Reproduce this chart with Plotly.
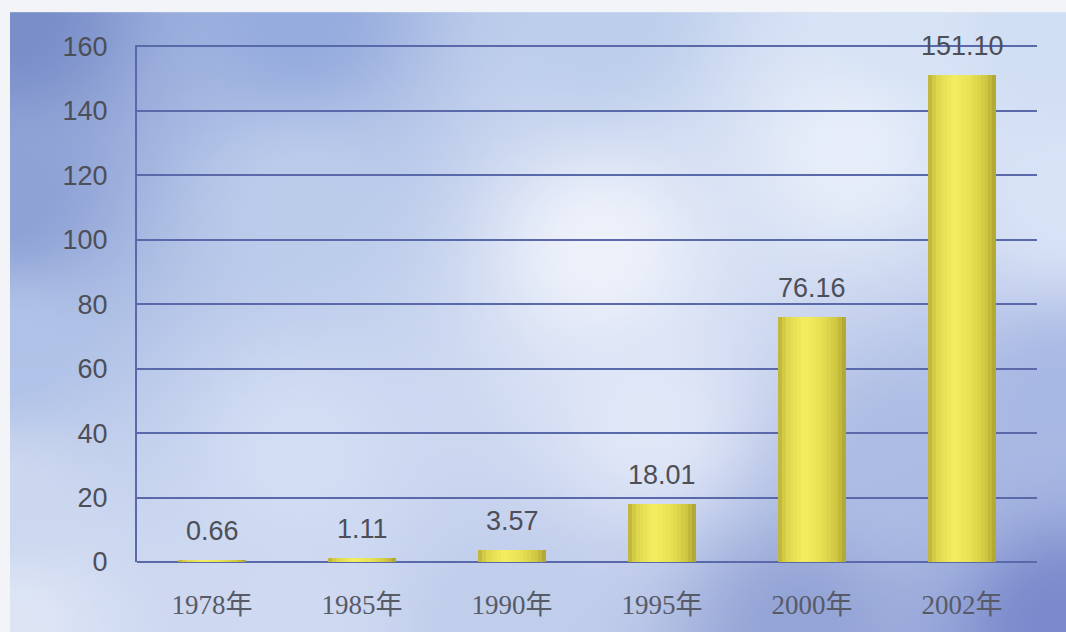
import base64
import struct
import zlib

import plotly.graph_objects as go

# ---------------- data ----------------
categories = ["1978年", "1985年", "1990年", "1995年", "2000年", "2002年"]
values = [0.66, 1.11, 3.57, 18.01, 76.16, 151.10]
value_labels = ["0.66", "1.11", "3.57", "18.01", "76.16", "151.10"]
y_ticks = [0, 20, 40, 60, 80, 100, 120, 140, 160]

# ---------------- geometry ----------------
W_FIG, H_FIG = 1066, 632
PANEL_X, PANEL_Y = 10, 12          # blue panel top-left

# ---------------- background gradient image (generated PNG) ----------------
anchors = [
    (15, 20, (122, 142, 202)), (300, 20, (150, 172, 222)), (600, 20, (188, 206, 236)),
    (900, 20, (215, 228, 246)), (1060, 20, (208, 222, 243)),
    (15, 200, (142, 162, 214)), (15, 350, (176, 195, 232)), (15, 500, (205, 216, 240)),
    (15, 625, (222, 230, 246)),
    (300, 200, (188, 205, 236)), (300, 450, (212, 223, 245)),
    (600, 250, (238, 242, 251)), (850, 150, (232, 239, 250)), (650, 420, (225, 232, 248)),
    (1060, 200, (218, 228, 247)), (1060, 400, (168, 184, 228)), (1060, 625, (122, 138, 204)),
    (800, 625, (148, 164, 214)), (500, 625, (192, 206, 236)), (300, 625, (208, 218, 242)),
    (900, 470, (172, 188, 228)),
]


def make_png(w, h):
    rows = []
    for j in range(h):
        py = PANEL_Y + (j + 0.5) * (H_FIG - PANEL_Y) / h
        row = bytearray()
        for i in range(w):
            px = PANEL_X + (i + 0.5) * (W_FIG - PANEL_X) / w
            sw = 0.0
            acc = [0.0, 0.0, 0.0]
            for ax, ay, c in anchors:
                d2 = (px - ax) ** 2 + (py - ay) ** 2 + 1.0
                wt = 1.0 / (d2 ** 1.3)
                sw += wt
                acc[0] += wt * c[0]
                acc[1] += wt * c[1]
                acc[2] += wt * c[2]
            row.extend(int(a / sw) for a in acc)
        rows.append(row)
    raw = b"".join(b"\x00" + bytes(r) for r in rows)

    def chunk(tag, data):
        return (struct.pack(">I", len(data)) + tag + data
                + struct.pack(">I", zlib.crc32(tag + data) & 0xFFFFFFFF))

    png = b"\x89PNG\r\n\x1a\n"
    png += chunk(b"IHDR", struct.pack(">IIBBBBB", w, h, 8, 2, 0, 0, 0))
    png += chunk(b"IDAT", zlib.compress(raw, 9))
    png += chunk(b"IEND", b"")
    return "data:image/png;base64," + base64.b64encode(png).decode()


bg_src = make_png(132, 78)

# ---------------- figure ----------------
ML, MR, MT, MB = 137, 29, 45, 67
PW = W_FIG - ML - MR
PH = H_FIG - MT - MB

fig = go.Figure()

# cylinder-like shading via thin overlaid bar slices
BAR_W = 0.45
N = 18
stops = [(0.0, (186, 176, 58)), (0.12, (222, 214, 76)), (0.38, (244, 238, 96)),
         (0.65, (232, 224, 82)), (0.88, (205, 195, 64)), (1.0, (172, 162, 50))]


def shade(t):
    for k in range(len(stops) - 1):
        t0, c0 = stops[k]
        t1, c1 = stops[k + 1]
        if t0 <= t <= t1:
            f = (t - t0) / (t1 - t0)
            return "rgb(%d,%d,%d)" % tuple(int(c0[m] + f * (c1[m] - c0[m])) for m in range(3))
    return "rgb(%d,%d,%d)" % stops[-1][1]


sw_ = BAR_W / N
for i in range(N):
    t = (i + 0.5) / N
    fig.add_trace(go.Bar(
        x=categories, y=values,
        width=sw_ * (1.35 if i < N - 1 else 1.0),
        offset=-BAR_W / 2 + i * sw_,
        marker=dict(color=shade(t), line=dict(width=0)),
        hoverinfo="skip", showlegend=False,
    ))

for c, v, lab in zip(categories, values, value_labels):
    fig.add_annotation(x=c, y=v, text=lab, showarrow=False, yanchor="bottom",
                       yshift=12, font=dict(family="Liberation Sans, Arial", size=27,
                                            color="#4d4f58"))

fig.add_layout_image(dict(
    source=bg_src, xref="paper", yref="paper",
    x=(PANEL_X - ML) / PW, y=1 + (MT - PANEL_Y) / PH,
    sizex=(W_FIG - PANEL_X) / PW, sizey=(H_FIG - PANEL_Y + 4) / PH,
    sizing="stretch", xanchor="left", yanchor="top", layer="below",
))

fig.update_layout(
    width=W_FIG, height=H_FIG,
    margin=dict(l=ML, r=MR, t=MT, b=MB, pad=0),
    paper_bgcolor="#f3f4f8", plot_bgcolor="rgba(0,0,0,0)",
    barmode="overlay", bargap=0, showlegend=False,
    xaxis=dict(
        type="category", range=[-0.5, 5.5], showgrid=False, zeroline=False,
        showline=False, ticks="", ticklabelstandoff=24,
        tickfont=dict(family="Liberation Serif, Noto Sans CJK SC", size=27, color="#575b68"),
    ),
    yaxis=dict(
        range=[0, 160.4], tickvals=y_ticks, showgrid=True, gridcolor="#5a69aa",
        gridwidth=2, zeroline=True, zerolinecolor="#5a69aa", zerolinewidth=2,
        showline=True, linecolor="#5a69aa", linewidth=2, ticks="",
        ticklabelstandoff=22,
        tickfont=dict(family="Liberation Sans, Arial", size=27, color="#4d4f58"),
    ),
)

fig.write_html(
    "out.html",
    config={"displayModeBar": False, "staticPlot": True},
    post_script="document.body.style.margin='0px';document.body.style.overflow='hidden';",
)
